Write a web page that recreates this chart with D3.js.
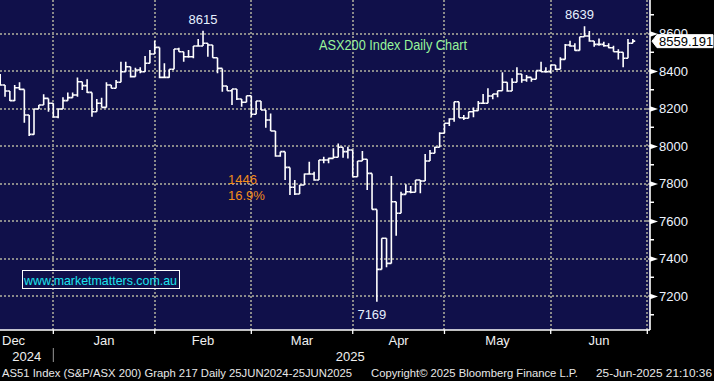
<!DOCTYPE html>
<html><head><meta charset="utf-8">
<script src="https://cdn.jsdelivr.net/npm/d3@7"></script>
<style>
html,body{margin:0;padding:0;background:#000;}
svg{display:block;font-family:"Liberation Sans",Arial,sans-serif;}
</style></head><body>
<svg id="c" width="714" height="381"></svg>
<script>
// ---- data ----
const startDate = "2024-12-12";
const endDate = "2025-06-30";
const holidays = ["2024-12-25","2024-12-26","2025-01-01","2025-01-27","2025-04-18","2025-04-21","2025-04-25","2025-06-09"];

const opens = [8350,8325,8293,8242,8311,8302,8165,8062,8197,8219,8254,8228,
 8155,8197,8242,8258,8272,8343,8322,8286,8183,8228,8206,8325,8308,8340,8396,8423,8370,8405,8396,8441,8491,
 8526,8366,8366,8409,8517,8503,8476,8476,8533,8533,8548,8539,8471,8414,8320,8295,8304,8251,8233,8268,
 8169,8240,8192,8139,8080,7947,7970,7886,7780,7744,7792,7851,7851,7819,7925,7925,7934,7940,7993,7970,7979,
 7836,7920,7929,7854,7662,7342,7508,7374,7703,7641,7742,7756,7753,7819,7813,7920,7961,7993,8068,
 8121,8144,8236,8151,8148,8183,8188,8228,8228,8267,8277,8295,8340,8293,8340,8384,8352,8366,8356,8402,8396,8396,
 8432,8409,8462,8539,8533,8510,8583,8587,8560,8542,8542,8535,8524,8503,8500,8468,8548];
const highs = [8384,8325,8293,8325,8340,8302,8165,8197,8219,8276,8254,8228,
 8201,8260,8286,8286,8366,8343,8356,8286,8251,8258,8340,8325,8352,8450,8450,8423,8418,8420,8480,8512,8562,
 8526,8441,8409,8517,8524,8503,8512,8533,8571,8615,8548,8539,8471,8414,8320,8304,8304,8251,8268,8268,
 8240,8240,8192,8174,8080,7970,7970,7886,7819,7792,7854,7916,7863,7925,7943,7938,7988,8014,7993,7996,7979,
 7920,7973,7929,7854,7662,7508,7508,7840,7703,7756,7796,7787,7819,7819,7957,7979,7996,8073,8121,
 8148,8236,8236,8165,8183,8206,8240,8277,8308,8277,8295,8393,8340,8361,8420,8384,8379,8366,8402,8450,8420,8432,
 8432,8473,8544,8562,8548,8583,8639,8613,8560,8574,8556,8548,8535,8516,8500,8571,8571];
const lows = [8322,8263,8240,8240,8299,8124,8053,8060,8197,8219,8183,8151,
 8148,8197,8242,8258,8263,8299,8283,8156,8183,8206,8206,8308,8308,8340,8396,8366,8370,8388,8396,8441,8491,
 8361,8364,8364,8409,8503,8450,8471,8468,8533,8533,8476,8471,8388,8290,8295,8219,8245,8210,8233,8156,
 8169,8192,8098,8080,7943,7943,7819,7739,7739,7744,7792,7851,7815,7819,7908,7908,7934,7940,7938,7934,7836,
 7836,7920,7765,7662,7169,7342,7353,7374,7522,7641,7742,7748,7753,7748,7813,7920,7961,7993,8068,
 8107,8130,8151,8139,8148,8153,8188,8228,8228,8249,8260,8295,8290,8293,8340,8338,8343,8343,8356,8396,8391,8388,
 8405,8409,8462,8530,8508,8510,8583,8556,8530,8535,8530,8521,8503,8462,8420,8468,8548];
const closes = [8325,8293,8242,8311,8302,8165,8062,8197,8219,8254,8228,8155,
 8197,8242,8258,8272,8343,8322,8286,8183,8228,8206,8325,8308,8340,8396,8423,8370,8405,8396,8441,8491,8526,
 8366,8366,8409,8517,8503,8476,8476,8533,8533,8548,8539,8471,8414,8320,8295,8304,8251,8233,8268,8169,
 8240,8192,8139,8080,7947,7970,7886,7780,7744,7792,7851,7851,7819,7925,7925,7934,7940,7993,7970,7979,7836,
 7920,7929,7854,7662,7342,7508,7374,7703,7641,7742,7756,7753,7819,7813,7920,7961,7993,8068,8121,
 8144,8236,8151,8148,8183,8188,8228,8228,8267,8277,8295,8340,8293,8340,8384,8352,8366,8356,8402,8396,8396,8432,
 8409,8462,8539,8533,8510,8583,8587,8560,8542,8542,8535,8524,8503,8500,8468,8548,8559.191];

const yMajorTicks = [7200,7400,7600,7800,8000,8200,8400,8600];
const yMinorTicks = [7100,7300,7500,7700,7900,8100,8300,8500,8700];
const monthNames = ["Dec","Jan","Feb","Mar","Apr","May","Jun"];
const yearNames = ["2024","2025"];
const peakLabels = [{i:42, v:8615, text:"8615", side:"above", dx:0},
                    {i:121, v:8639, text:"8639", side:"above", dx:-5},
                    {i:78, v:7169, text:"7169", side:"below", dx:-5}];
const lastValue = 8559.191;
const fallText = ["1446","16.9%"];
const titleText = "ASX200 Index Daily Chart";
const siteText = "www.marketmatters.com.au";
const footerLeft = "AS51 Index (S&P/ASX 200) Graph 217  Daily 25JUN2024-25JUN2025";
const footerMid = "Copyright\u00A9 2025 Bloomberg Finance L.P.";
const footerRight = "25-Jun-2025 21:10:36";

// ---- layout ----
const W = 714, H = 381;
const plotR = 650, plotB = 330;
const bg = "#10104a";
const gridCol = "#8a8a8a";

const svg = d3.select("#c");
const fmt = d3.timeFormat("%Y-%m-%d");
const parse = d3.timeParse("%Y-%m-%d");
const calendar = d3.timeDays(parse(startDate), d3.timeDay.offset(parse(endDate), 1))
  .filter(d => d.getDay() !== 0 && d.getDay() !== 6 && !holidays.includes(fmt(d)));
const keys = calendar.map(fmt);

const x = d3.scalePoint().domain(keys).range([0.2, 647.3]);
const y = d3.scaleLinear().domain([7018.7, 8778.7]).range([plotB, 0]);

svg.append("rect").attr("width", W).attr("height", H).attr("fill", "#000");
svg.append("rect").attr("width", plotR).attr("height", plotB).attr("fill", bg);

// month ends
const monthGroups = d3.groups(calendar, d => d3.timeMonth(d));
const monthEnds = monthGroups.map(g => x(fmt(g[1][g[1].length - 1])));

const grid = svg.append("g");
yMajorTicks.forEach(v => {
  const yy = Math.round(y(v));
  grid.append("line").attr("x1", 0).attr("x2", plotR).attr("y1", yy).attr("y2", yy)
    .attr("stroke", gridCol).attr("stroke-width", 2).attr("stroke-dasharray", "2,2");
});
monthEnds.forEach(mx => {
  const xx = Math.round(mx);
  grid.append("line").attr("x1", xx).attr("x2", xx).attr("y1", 0).attr("y2", plotB)
    .attr("stroke", gridCol).attr("stroke-width", 2).attr("stroke-dasharray", "2,2");
});

// bars
svg.append("clipPath").attr("id", "pc").append("rect").attr("width", plotR).attr("height", plotB);
const bars = svg.append("g").attr("clip-path", "url(#pc)");
const half = x.step() / 2;
closes.forEach((c, i) => {
  const xi = x(keys[i]);
  const p = `M${xi},${y(highs[i])}V${y(lows[i])}M${xi - half},${y(opens[i])}H${xi}M${xi},${y(c)}H${xi + half}`;
  bars.append("path").attr("d", p).attr("stroke", "#fff").attr("stroke-width", 1.6).attr("fill", "none");
});

// axes lines
svg.append("line").attr("x1", 0).attr("x2", plotR).attr("y1", plotB).attr("y2", plotB)
  .attr("stroke", "#fff").attr("stroke-width", 1.6);
svg.append("line").attr("x1", plotR).attr("x2", plotR).attr("y1", 0).attr("y2", plotB)
  .attr("stroke", "#fff").attr("stroke-width", 1.6);

// right axis
const yAxis = d3.axisRight(y).tickValues(yMajorTicks).tickSize(0).tickPadding(9).tickFormat(d3.format("d"));
const ga = svg.append("g").attr("transform", `translate(${plotR},0)`).call(yAxis);
ga.select(".domain").remove();
ga.selectAll("text").attr("fill", "#eef4ff").attr("font-size", 13).attr("font-family", "Liberation Sans, Arial, sans-serif");
ga.selectAll(".tick").append("path").attr("d", "M0,-2.8L8,0L0,2.8Z").attr("fill", "#fff");
yMinorTicks.forEach(v => {
  svg.append("line").attr("x1", plotR).attr("x2", plotR + 4).attr("y1", y(v)).attr("y2", y(v))
    .attr("stroke", "#fff").attr("stroke-width", 1.5);
});

// last value tag
const ly = y(lastValue);
svg.append("path").attr("d", `M${plotR + 2},${ly}L${plotR + 7},${ly - 6.5}H713V${ly + 6.5}H${plotR + 7}Z`)
  .attr("fill", "#fff").attr("stroke", "#fff");
svg.append("text").attr("x", 659).attr("y", ly).attr("dy", "0.36em").attr("fill", "#000")
  .attr("font-size", 13).text(d3.format(".3f")(lastValue));

// bottom axis
const gb = svg.append("g");
monthEnds.forEach(mx => {
  gb.append("line").attr("x1", mx).attr("x2", mx).attr("y1", plotB).attr("y2", plotB + 4)
    .attr("stroke", "#fff").attr("stroke-width", 1.3);
});
monthNames.forEach((m, k) => {
  const right = monthEnds[k];
  const left = k === 0 ? null : monthEnds[k - 1];
  const t = gb.append("text").attr("y", 345).attr("fill", "#f0f0f0").attr("font-size", 13).text(m);
  if (left === null) t.attr("x", 2).attr("text-anchor", "start");
  else t.attr("x", (left + right) / 2).attr("text-anchor", "middle");
});
const yearSpans = [[0, monthEnds[0]], [monthEnds[0], monthEnds[monthEnds.length - 1]]];
yearNames.forEach((yr, k) => {
  gb.append("text").attr("x", (yearSpans[k][0] + yearSpans[k][1]) / 2).attr("y", 361)
    .attr("text-anchor", "middle").attr("fill", "#f0f0f0").attr("font-size", 13).text(yr);
});
gb.append("line").attr("x1", monthEnds[0]).attr("x2", monthEnds[0]).attr("y1", 348).attr("y2", 362)
  .attr("stroke", "#999").attr("stroke-width", 1);

// peak/trough labels
peakLabels.forEach(p => {
  const xi = x(keys[p.i]) + p.dx;
  const yy = p.side === "above" ? y(p.v) - 7 : y(p.v) + 17;
  svg.append("text").attr("x", xi).attr("y", yy).attr("text-anchor", "middle")
    .attr("fill", "#e6f0ff").attr("font-size", 13).text(p.text);
});

// fall annotation
svg.append("text").attr("x", 228).attr("y", 184).attr("fill", "#f08c1a").attr("font-size", 13).text(fallText[0]);
svg.append("text").attr("x", 228).attr("y", 199.5).attr("fill", "#f08c1a").attr("font-size", 13).text(fallText[1]);

// title
svg.append("text").attr("x", 319).attr("y", 49.5).attr("fill", "#98f59a").attr("font-size", 14)
  .attr("textLength", 148).attr("lengthAdjust", "spacingAndGlyphs").text(titleText);

// website box
svg.append("rect").attr("x", 22.5).attr("y", 270.5).attr("width", 157).attr("height", 18)
  .attr("fill", "none").attr("stroke", "#fff").attr("stroke-width", 1);
svg.append("text").attr("x", 24).attr("y", 284.5).attr("fill", "#1de4ee").attr("font-size", 13)
  .attr("textLength", 153).attr("lengthAdjust", "spacingAndGlyphs").text(siteText);

// footer
svg.append("text").attr("x", 2).attr("y", 377).attr("fill", "#e8e8e8").attr("font-size", 11)
  .attr("textLength", 350).attr("lengthAdjust", "spacingAndGlyphs").text(footerLeft);
svg.append("text").attr("x", 371).attr("y", 377).attr("fill", "#e8e8e8").attr("font-size", 11)
  .attr("textLength", 207).attr("lengthAdjust", "spacingAndGlyphs").text(footerMid);
svg.append("text").attr("x", 596).attr("y", 377).attr("fill", "#e8e8e8").attr("font-size", 11)
  .attr("textLength", 116).attr("lengthAdjust", "spacingAndGlyphs").text(footerRight);
</script>
</body></html>
